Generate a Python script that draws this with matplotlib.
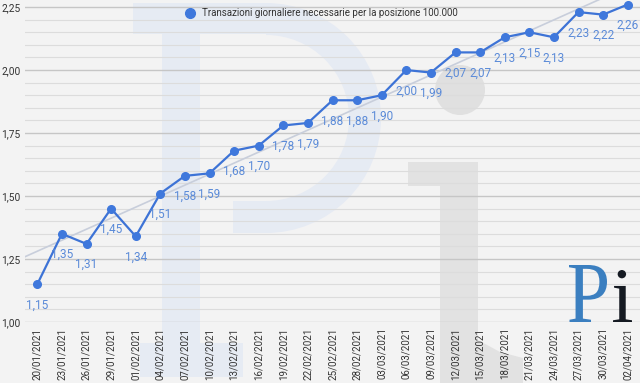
import numpy as np
import matplotlib
matplotlib.use("Agg")
import matplotlib.pyplot as plt
from matplotlib.patches import Rectangle, Wedge, Circle, Polygon, PathPatch
from matplotlib.transforms import Affine2D
from matplotlib.textpath import TextPath
from matplotlib.font_manager import FontProperties
from matplotlib.lines import Line2D
from matplotlib.ticker import MultipleLocator, FuncFormatter

dates = ["20/01/2021", "23/01/2021", "26/01/2021", "29/01/2021", "01/02/2021",
         "04/02/2021", "07/02/2021", "10/02/2021", "13/02/2021", "16/02/2021",
         "19/02/2021", "22/02/2021", "25/02/2021", "28/02/2021", "03/03/2021",
         "06/03/2021", "09/03/2021", "12/03/2021", "15/03/2021", "18/03/2021",
         "21/03/2021", "24/03/2021", "27/03/2021", "30/03/2021", "02/04/2021"]
values = [1.15, 1.35, 1.31, 1.45, 1.34, 1.51, 1.58, 1.59, 1.68, 1.70,
          1.78, 1.79, 1.88, 1.88, 1.90, 2.00, 1.99, 2.07, 2.07, 2.13,
          2.15, 2.13, 2.23, 2.22, 2.26]
series_name = "Transazioni giornaliere necessarie per la posizione 100.000"

plt.rcParams['font.family'] = ['Roboto', 'DejaVu Sans']

W, H, DPI = 640, 383, 100
fig = plt.figure(figsize=(W / DPI, H / DPI), dpi=DPI, facecolor='#f3f3f3')

# pixel (from top) -> display transform for watermark
T = Affine2D().scale(1 / DPI, -1 / DPI).translate(0, H / DPI) + fig.dpi_scale_trans
pcol = '#e6ebf3'
icol = '#e2e2e2'
wm = [
    Rectangle((133, 3), 133, 31, color=pcol),
    Rectangle((162, 3), 38, 374, color=pcol),
    Rectangle((140, 343), 103, 34, color=pcol),
    Rectangle((233, 201), 33, 32, color=pcol),
    Wedge((266, 118), 115, -90, 90, width=32, color=pcol),
    Circle((460, 90), 25, color='#e0e0e0'),
    Rectangle((440, 162), 38, 221, color=icol),
    Rectangle((408, 162), 32, 24, color=icol),
    Polygon([(478, 340), (500, 352), (523, 358), (523, 383), (478, 383)], closed=True, color=icol),
]
for p in wm:
    p.set_transform(T)
    p.set_zorder(-5)
    p.set_linewidth(0)
    fig.add_artist(p)

ax = fig.add_axes([25 / W, 1 - 322 / H, 615 / W, 322 / H])
ax.set_facecolor('none')
for s in ax.spines.values():
    s.set_visible(False)

x = np.arange(len(values))
ax.set_xlim(-0.5, len(values) - 0.5)
ax.set_ylim(1.0, 2.278)

ax.yaxis.set_major_locator(MultipleLocator(0.25))
ax.yaxis.set_minor_locator(MultipleLocator(0.05))
ax.yaxis.set_major_formatter(FuncFormatter(lambda v, p: f"{v:.2f}".replace('.', ',')))
ax.grid(axis='y', which='major', color='#c6c6c6', linewidth=1.0)
ax.grid(axis='y', which='minor', color='#dcdcdc', linewidth=0.8)
ax.set_axisbelow(True)

# trend line
coef = np.polyfit(x, values, 1)
xt = np.array([-0.5, len(values) - 0.5])
ax.plot(xt, np.polyval(coef, xt), color='#c8cedb', linewidth=1.2, zorder=2)

line_col = '#3d73d6'
ax.plot(x, values, color=line_col, linewidth=1.6, marker='o', markersize=5.5,
        markerfacecolor='#3f78dc', markeredgecolor='#3f78dc', zorder=3)

for xi, v in zip(x, values):
    ax.annotate(f"{v:.2f}".replace('.', ','), (xi, v), xytext=(0, -15),
                textcoords='offset points', ha='center', va='center',
                fontsize=8.5, color='#5a8ad8', zorder=4)

ax.set_xticks(x)
ax.set_xticklabels(dates, rotation=90)
ax.tick_params(axis='x', length=0, pad=4, labelsize=7, labelcolor='#333333')
ax.tick_params(axis='y', which='both', length=0, pad=3, labelsize=7.3, labelcolor='#333333')

leg = fig.legend(handles=[Line2D([], [], marker='o', linestyle='none', color='#3f78dc', markersize=7)],
                 labels=[series_name], loc='center left',
                 bbox_to_anchor=(185 / W, 1 - 13 / H), handlelength=1.0, handletextpad=0.7,
                 borderpad=0, borderaxespad=0, frameon=False, fontsize=7,
                 labelcolor='#333333')

# bottom-right logo
Tup = Affine2D().scale(1 / DPI) + fig.dpi_scale_trans
def logo_glyph(ch, box, color):
    tp = TextPath((0, 0), ch, size=100, prop=FontProperties(family='Liberation Serif'))
    ext = tp.get_extents()
    X0, Yt, X1, Yb = box
    sx = (X1 - X0) / ext.width
    sy = (Yb - Yt) / ext.height
    tr = Affine2D().translate(-ext.x0, -ext.y0).scale(sx, sy).translate(X0, H - Yb) + Tup
    pp = PathPatch(tp, facecolor=color, edgecolor='none', transform=tr, zorder=10)
    fig.add_artist(pp)

logo_glyph("P", (569, 265, 607, 322), '#3b7fc0')
logo_glyph("i", (613, 270, 632, 322), '#151a22')

fig.savefig("out.png", dpi=DPI, facecolor=fig.get_facecolor())
